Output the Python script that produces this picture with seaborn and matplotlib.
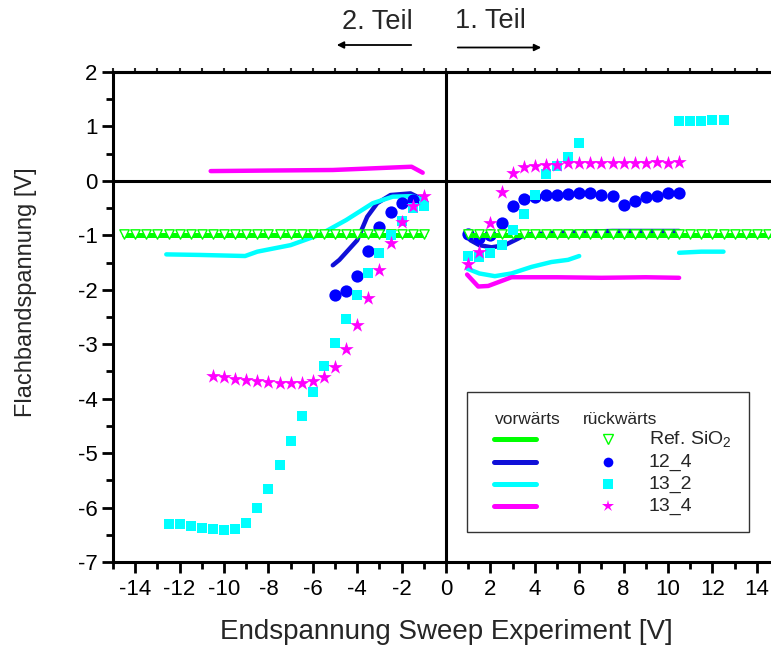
import matplotlib
matplotlib.use("Agg")
import matplotlib.pyplot as plt
from matplotlib.lines import Line2D
from matplotlib.patches import Rectangle, FancyArrowPatch
import seaborn as sns
import pandas as pd

# ---------------- data ----------------
# forward sweeps (lines)
ref_f_left_x = [-14.5, -10.0, -5.0, -1.0]
ref_f_left_y = [-1.0, -1.0, -1.0, -1.0]
ref_f_right_x = [1.0, 5.0, 10.0, 14.8]
ref_f_right_y = [-1.0, -1.0, -1.0, -1.0]

b124_f_left_x = [-5.1, -4.8, -4.0, -3.55, -3.1, -2.5, -1.6, -1.0]
b124_f_left_y = [-1.55, -1.45, -1.09, -0.66, -0.41, -0.26, -0.23, -0.35]
b124_f_right_x = [0.9, 1.1, 1.5, 2.05, 2.65, 3.25, 3.55, 5.0, 7.5, 10.5]
b124_f_right_y = [-0.97, -1.09, -1.18, -1.22, -1.18, -1.06, -0.99, -0.95, -0.92, -0.92]

c132_f_left_x = [-12.6, -11.1, -9.05, -8.5, -7.0, -5.7, -4.5, -3.3, -2.4, -1.5, -1.0]
c132_f_left_y = [-1.35, -1.36, -1.38, -1.30, -1.18, -0.99, -0.72, -0.41, -0.29, -0.28, -0.35]
c132_f_right1_x = [0.95, 1.5, 2.2, 2.95, 3.85, 4.75, 5.5, 6.0]
c132_f_right1_y = [-1.61, -1.70, -1.75, -1.70, -1.58, -1.49, -1.45, -1.38]
c132_f_right2_x = [10.5, 11.5, 12.5]
c132_f_right2_y = [-1.32, -1.30, -1.30]

m134_f_left_x = [-10.6, -8.0, -5.1, -1.55, -1.05]
m134_f_left_y = [0.18, 0.19, 0.20, 0.26, 0.15]
m134_f_right_x = [0.95, 1.45, 1.9, 2.95, 5.0, 7.0, 9.0, 10.5]
m134_f_right_y = [-1.72, -1.94, -1.93, -1.77, -1.77, -1.78, -1.77, -1.78]

# backward sweeps (markers)
ref_r_x = [-14.5, -14.0, -13.5, -13.0, -12.5, -12.0, -11.5, -11.0, -10.5, -10.0,
           -9.5, -9.0, -8.5, -8.0, -7.5, -7.0, -6.5, -6.0, -5.5, -5.0,
           -4.5, -4.0, -3.5, -3.0, -2.5, -2.0, -1.5, -1.0,
           1.0, 1.5, 2.0, 2.5, 3.0, 3.5, 4.0, 4.5, 5.0, 5.5,
           6.0, 6.5, 7.0, 7.5, 8.0, 8.5, 9.0, 9.5, 10.0, 10.5,
           11.0, 11.5, 12.0, 12.5, 13.0, 13.5, 14.0, 14.5]
ref_r_y = [-0.98] * 56

b124_r_x = [-5.0, -4.5, -4.0, -3.5, -3.0, -2.5, -2.0, -1.5,
            1.0, 1.5, 2.0, 2.5, 3.0, 3.5, 4.0, 4.5, 5.0, 5.5, 6.0, 6.5,
            7.0, 7.5, 8.0, 8.5, 9.0, 9.5, 10.0, 10.5]
b124_r_y = [-2.10, -2.02, -1.75, -1.28, -0.84, -0.57, -0.40, -0.36,
            -0.98, -1.05, -1.00, -0.78, -0.47, -0.34, -0.29, -0.26, -0.25, -0.24, -0.23, -0.23,
            -0.26, -0.28, -0.44, -0.37, -0.30, -0.28, -0.23, -0.22]

c132_r_x = [-12.5, -12.0, -11.5, -11.0, -10.5, -10.0, -9.5, -9.0, -8.5, -8.0,
            -7.5, -7.0, -6.5, -6.0, -5.5, -5.0, -4.5, -4.0, -3.5, -3.0,
            -2.5, -2.0, -1.5, -1.0,
            1.0, 1.5, 2.0, 2.5, 3.0, 3.5, 4.0, 4.5, 5.0, 5.5, 6.0,
            10.5, 11.0, 11.5, 12.0, 12.5]
c132_r_y = [-6.31, -6.31, -6.34, -6.37, -6.39, -6.42, -6.39, -6.28, -6.01, -5.66,
            -5.22, -4.78, -4.32, -3.87, -3.40, -2.97, -2.53, -2.10, -1.69, -1.33,
            -0.99, -0.74, -0.50, -0.46,
            -1.38, -1.40, -1.33, -1.17, -0.90, -0.61, -0.25, 0.12, 0.27, 0.43, 0.70,
            1.10, 1.10, 1.10, 1.11, 1.11]

m134_r_x = [-10.5, -10.0, -9.5, -9.0, -8.5, -8.0, -7.5, -7.0, -6.5, -6.0,
            -5.5, -5.0, -4.5, -4.0, -3.5, -3.0, -2.5, -2.0, -1.5, -1.0,
            1.0, 1.5, 2.0, 2.5, 3.0, 3.5, 4.0, 4.5, 5.0, 5.5,
            6.0, 6.5, 7.0, 7.5, 8.0, 8.5, 9.0, 9.5, 10.0, 10.5]
m134_r_y = [-3.58, -3.60, -3.64, -3.66, -3.68, -3.69, -3.71, -3.72, -3.72, -3.67,
            -3.60, -3.41, -3.08, -2.65, -2.15, -1.64, -1.14, -0.75, -0.46, -0.27,
            -1.53, -1.30, -0.78, -0.20, 0.14, 0.25, 0.27, 0.29, 0.30, 0.32,
            0.32, 0.33, 0.33, 0.33, 0.33, 0.33, 0.33, 0.34, 0.33, 0.34]

x_ticks = [-14, -12, -10, -8, -6, -4, -2, 0, 2, 4, 6, 8, 10, 12, 14]
y_ticks = [2, 1, 0, -1, -2, -3, -4, -5, -6, -7]

legend_labels = ["Ref. SiO$_\\mathrm{2}$", "12_4", "13_2", "13_4"]

# ---------------- style ----------------
GREEN = "#00FF00"
BLUE = "#0000FF"
BLUE_LINE = "#1010D8"
CYAN = "#00FFFF"
MAGENTA = "#FF00FF"

sns.set_theme(style="ticks")
plt.rcParams["font.family"] = ["Liberation Sans", "DejaVu Sans"]
plt.rcParams["mathtext.fontset"] = "custom"
plt.rcParams["mathtext.rm"] = "Liberation Sans"
plt.rcParams["mathtext.it"] = "Liberation Sans"

W, H = 771, 651
fig = plt.figure(figsize=(W / 100, H / 100), dpi=100)
L, R, T, B = 113, 779, 72, 562
ax = fig.add_axes([L / W, 1 - B / H, (R - L) / W, (B - T) / H])


def fx(px):
    return px / W


def fy(py):
    return 1 - py / H


def line(x, y, color, lw=3.2, z=2):
    df = pd.DataFrame({"x": x, "y": y})
    sns.lineplot(data=df, x="x", y="y", ax=ax, color=color, lw=lw,
                 sort=False, estimator=None, zorder=z, legend=False)


def scatter(x, y, marker, color, s, z=4, fc=None, lw=0):
    df = pd.DataFrame({"x": x, "y": y})
    sns.scatterplot(data=df, x="x", y="y", ax=ax, marker=marker, s=s,
                    color=color if fc is None else fc,
                    edgecolor=color, linewidth=lw, zorder=z, legend=False)


# zero lines
ax.axhline(0, color="black", lw=2.2, zorder=1)
ax.axvline(0, color="black", lw=2.2, zorder=1)

# forward lines
line(b124_f_left_x, b124_f_left_y, BLUE_LINE)
line(b124_f_right_x, b124_f_right_y, BLUE_LINE)
line(c132_f_left_x, c132_f_left_y, CYAN)
line(c132_f_right1_x, c132_f_right1_y, CYAN)
line(c132_f_right2_x, c132_f_right2_y, CYAN)
line(m134_f_left_x, m134_f_left_y, MAGENTA)
line(m134_f_right_x, m134_f_right_y, MAGENTA)

# backward markers
scatter(b124_r_x, b124_r_y, "o", BLUE, 78, z=3)
line(ref_f_left_x, ref_f_left_y, GREEN, lw=3.6, z=3.5)
line(ref_f_right_x, ref_f_right_y, GREEN, lw=3.6, z=3.5)
scatter(ref_r_x, ref_r_y, "v", GREEN, 45, z=3.6, fc="white", lw=1.0)
scatter(c132_r_x, c132_r_y, "s", CYAN, 58, z=4)
scatter(m134_r_x, m134_r_y, "*", MAGENTA, 120, z=5)

# axes
ax.set_xlim(-15, 15)
ax.set_ylim(-7, 2)
ax.set_xlabel("")
ax.set_ylabel("")
ax.set_xticks(x_ticks)
ax.set_xticks([-15, -13, -11, -9, -7, -5, -3, -1, 1, 3, 5, 7, 9, 11, 13, 15], minor=True)
ax.set_yticks(y_ticks)
ax.set_yticks([1.5, 0.5, -0.5, -1.5, -2.5, -3.5, -4.5, -5.5, -6.5], minor=True)
ax.set_xticklabels([str(v) for v in x_ticks], fontsize=16)
ax.set_yticklabels([str(v) for v in y_ticks], fontsize=16)
ax.tick_params(axis="both", which="major", direction="out", length=8, width=2,
               color="black", labelcolor="black", top=False, right=False)
ax.tick_params(axis="both", which="minor", direction="out", length=5, width=2,
               color="black", top=False, right=False)
ax.tick_params(axis="x", which="major", pad=4)
ax.tick_params(axis="y", which="major", pad=3)
for s in ["left", "bottom", "top", "right"]:
    ax.spines[s].set_linewidth(2.2)
    ax.spines[s].set_color("black")

sec = ax.secondary_xaxis("top")
sec.set_xticks(list(range(-15, 16)))
sec.tick_params(direction="out", length=3, width=1.5, labeltop=False)
sec.spines["top"].set_linewidth(2.2)

# axis titles
fig.text(fx(446), fy(632), "Endspannung Sweep Experiment [V]", fontsize=20,
         ha="center", va="center")
fig.text(fx(26), fy(292), "Flachbandspannung [V]", fontsize=17, rotation=90,
         ha="center", va="center")

# top annotations
fig.text(fx(377), fy(22), "2. Teil", fontsize=19.5, ha="center", va="center")
fig.text(fx(490), fy(21), "1. Teil", fontsize=19.5, ha="center", va="center")
fig.add_artist(FancyArrowPatch(
    (fx(414), fy(45)), (fx(334), fy(45)), transform=fig.transFigure,
    arrowstyle="-|>", mutation_scale=10, lw=1.3, color="black"))
fig.add_artist(FancyArrowPatch(
    (fx(455), fy(47.5)), (fx(544), fy(47.5)), transform=fig.transFigure,
    arrowstyle="-|>", mutation_scale=10, lw=1.3, color="black"))

# legend (manual layout)
fig.add_artist(Rectangle((fx(467), fy(532)), fx(749) - fx(467), fy(392) - fy(532),
                         transform=fig.transFigure, fill=True, facecolor="white",
                         edgecolor="#333333", lw=1.0, zorder=10))
fig.text(fx(528), fy(419), "vorwärts", fontsize=12.5, ha="center", va="center", zorder=11)
fig.text(fx(620), fy(419), "rückwärts", fontsize=12.5, ha="center", va="center", zorder=11)
rows = [439, 462, 484, 506]
line_colors = [GREEN, BLUE_LINE, CYAN, MAGENTA]
mk = [("v", GREEN, 7, "white"), ("o", BLUE, 7, BLUE), ("s", CYAN, 6.5, CYAN), ("*", MAGENTA, 9, MAGENTA)]
for r, c, (m, mc, ms, mfc), lab in zip(rows, line_colors, mk, legend_labels):
    fig.add_artist(Line2D([fx(494), fx(536)], [fy(r), fy(r)], transform=fig.transFigure,
                          color=c, lw=3.6, solid_capstyle="round", zorder=11))
    fig.add_artist(Line2D([fx(608)], [fy(r)], transform=fig.transFigure, marker=m,
                          markersize=ms, markeredgecolor=mc, markerfacecolor=mfc,
                          markeredgewidth=1.0 if m == "v" else 0, linestyle="none", zorder=11))
    fig.text(fx(649), fy(r), lab, fontsize=14, ha="left", va="center", zorder=11)

fig.savefig("out.png", dpi=100)
